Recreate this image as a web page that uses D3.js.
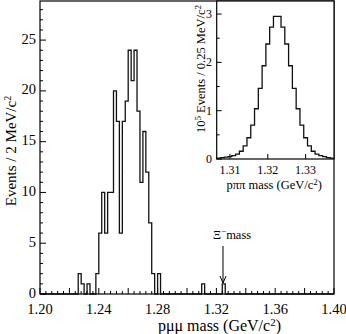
<!DOCTYPE html>
<html><head><meta charset="utf-8">
<script src="https://cdn.jsdelivr.net/npm/d3@7"></script>
<style>
html,body{margin:0;padding:0;background:#fff;}
svg{display:block;font-family:"Liberation Serif","Times New Roman",serif;}
</style></head>
<body>
<svg id="c" width="346" height="334"></svg>
<script>
// ---- main histogram: p mu mu mass, 2 MeV bins from 1.200 to 1.400 GeV
const mainBinStart = 1.200;
const mainBinWidth = 0.002;
const mainCounts = [
 0,0,0,0,0,0,0,0,0,0,
 0,0,0,2,1,0,1,0,0,2,
 6,10,6,10,10,20,17,6,17,19,
 24,21,24,18,11,16,12,7,2,0,
 2,0,0,0,0,0,0,0,0,0,
 0,0,0,0,0,1,0,0,0,0,
 0,0,1,0,0,0,0,0,0,0,
 0,0,0,0,0,0,0,0,0,0,
 0,0,0,0,0,0,0,0,0,0,
 0,0,0,0,0,0,0,0,0,0
];
const mainXTicks = [1.20,1.24,1.28,1.32,1.36,1.40];
const mainYTicks = [0,5,10,15,20,25];

// ---- inset: p pi pi mass (units of 10^5 events)
const insetBinStart = 1.3065;
const insetBinWidth = 0.001;
const insetCounts = [
 0.02,0.03,0.04,0.05,0.07,0.10,0.16,0.27,0.44,0.70,
 1.04,1.46,1.93,2.38,2.73,2.95,2.95,2.73,2.38,1.93,
 1.46,1.04,0.70,0.44,0.27,0.16,0.10,0.07,0.05,0.03,0.02
];
const insetXTicks = [1.31,1.32,1.33];
const insetYTicks = [0,1,2,3];

const arrowMass = 1.3245;

const svg = d3.select("#c");

// main scales
const x = d3.scaleLinear().domain([1.2,1.4]).range([40,334]);
const y = d3.scaleLinear().domain([0,28.85]).range([294,1]);

svg.append("rect").attr("x",40).attr("y",1).attr("width",294).attr("height",293)
  .attr("fill","none").attr("stroke","#000").attr("stroke-width",1.2);

// main histogram
const mainPts = mainCounts.map((c,i)=>[mainBinStart+i*mainBinWidth,c]);
mainPts.push([mainBinStart+mainCounts.length*mainBinWidth, mainCounts[mainCounts.length-1]]);
const lineMain = d3.line().x(d=>x(d[0])).y(d=>y(d[1])).curve(d3.curveStepAfter);
svg.append("path").attr("d",lineMain(mainPts)).attr("fill","none")
  .attr("stroke","#111").attr("stroke-width",1.3);

// main x axis ticks (inside)
const xMinor = d3.range(0,51).map(k=>1.2+k*0.004);
svg.append("g").selectAll("line").data(xMinor).join("line")
  .attr("x1",d=>x(d)).attr("x2",d=>x(d)).attr("y1",294)
  .attr("y2",(d,k)=>294-(k%5===0?6:3))
  .attr("stroke","#000").attr("stroke-width",1);
svg.append("g").selectAll("text").data(mainXTicks).join("text")
  .attr("x",d=>x(d)).attr("y",313.5).attr("text-anchor","middle")
  .attr("font-size",14.5).attr("fill","#000").text(d=>d3.format(".2f")(d));

// main y axis
const yMinor = d3.range(0,29,1);
svg.append("g").selectAll("line").data(yMinor).join("line")
  .attr("x1",40).attr("x2",d=>40+(d%5===0?6:3)).attr("y1",d=>y(d)).attr("y2",d=>y(d))
  .attr("stroke","#000").attr("stroke-width",1);
svg.append("g").selectAll("text").data(mainYTicks).join("text")
  .attr("x",36).attr("y",d=>y(d)+3.5).attr("text-anchor","end")
  .attr("font-size",14.5).attr("fill","#000").text(d=>d);

// axis titles
const xt = svg.append("text").attr("x",281).attr("y",331).attr("text-anchor","end")
  .attr("font-size",16).attr("fill","#000");
xt.append("tspan").text("pμμ mass (GeV/c");
xt.append("tspan").attr("dy",-5).attr("font-size",11).text("2");
xt.append("tspan").attr("dy",5).text(")");

const yt = svg.append("text").attr("transform","translate(16,151) rotate(-90)")
  .attr("text-anchor","middle").attr("font-size",15).attr("fill","#000");
yt.append("tspan").text("Events / 2 MeV/c");
yt.append("tspan").attr("dy",-5).attr("font-size",10).text("2");

// Xi mass arrow
const ax = x(arrowMass);
svg.append("line").attr("x1",ax).attr("x2",ax).attr("y1",246).attr("y2",283)
  .attr("stroke","#000").attr("stroke-width",1);
svg.append("path").attr("d",`M${ax-3},${276} L${ax},${283} L${ax+3},${276}`)
  .attr("fill","none").attr("stroke","#000").attr("stroke-width",1);
const lab = svg.append("text").attr("x",ax-10).attr("y",239).attr("font-size",12.5).attr("fill","#000");
lab.append("tspan").text("Ξ");
lab.append("tspan").attr("dy",-5).attr("font-size",9).text("−");
lab.append("tspan").attr("dy",5).text("mass");

// ---- inset
const xi = d3.scaleLinear().domain([1.3065,1.3375]).range([216.7,334]);
const yi = d3.scaleLinear().domain([0,3.27]).range([159,1]);
svg.append("rect").attr("x",216.7).attr("y",1).attr("width",334-216.7).attr("height",158)
  .attr("fill","#fff").attr("stroke","#000").attr("stroke-width",1.2);
const insetPts = insetCounts.map((c,i)=>[insetBinStart+i*insetBinWidth,c]);
insetPts.push([insetBinStart+insetCounts.length*insetBinWidth, insetCounts[insetCounts.length-1]]);
const lineIn = d3.line().x(d=>xi(d[0])).y(d=>yi(d[1])).curve(d3.curveStepAfter);
svg.append("path").attr("d",lineIn(insetPts)).attr("fill","none")
  .attr("stroke","#111").attr("stroke-width",1.3);
const yiMinor = [0,0.5,1,1.5,2,2.5,3];
svg.append("g").selectAll("line").data(yiMinor).join("line")
  .attr("x1",216.7).attr("x2",d=>216.7+(Number.isInteger(d)?5:3)).attr("y1",d=>yi(d)).attr("y2",d=>yi(d))
  .attr("stroke","#000").attr("stroke-width",1);
svg.append("g").selectAll("text").data(insetYTicks).join("text")
  .attr("x",212).attr("y",d=>yi(d)+4).attr("text-anchor","end")
  .attr("font-size",12).attr("fill","#000").text(d=>d);
svg.append("g").selectAll("line").data(insetXTicks).join("line")
  .attr("x1",d=>xi(d)).attr("x2",d=>xi(d)).attr("y1",159).attr("y2",154)
  .attr("stroke","#000").attr("stroke-width",1);
svg.append("g").selectAll("text").data(insetXTicks).join("text")
  .attr("x",d=>xi(d)).attr("y",174).attr("text-anchor","middle")
  .attr("font-size",12).attr("fill","#000").text(d=>d3.format(".2f")(d));
const it = svg.append("text").attr("x",322).attr("y",189).attr("text-anchor","end")
  .attr("font-size",12.5).attr("fill","#000");
it.append("tspan").text("pππ mass (GeV/c");
it.append("tspan").attr("dy",-4).attr("font-size",9).text("2");
it.append("tspan").attr("dy",4).text(")");
const iyt = svg.append("text").attr("transform","translate(205,5) rotate(-90)")
  .attr("text-anchor","end").attr("font-size",12.5).attr("fill","#000");
iyt.append("tspan").text("10");
iyt.append("tspan").attr("dy",-4).attr("font-size",9).text("5");
iyt.append("tspan").attr("dy",4).text(" Events / 0.25 MeV/c");
iyt.append("tspan").attr("dy",-4).attr("font-size",9).text("2");
</script>
</body></html>
